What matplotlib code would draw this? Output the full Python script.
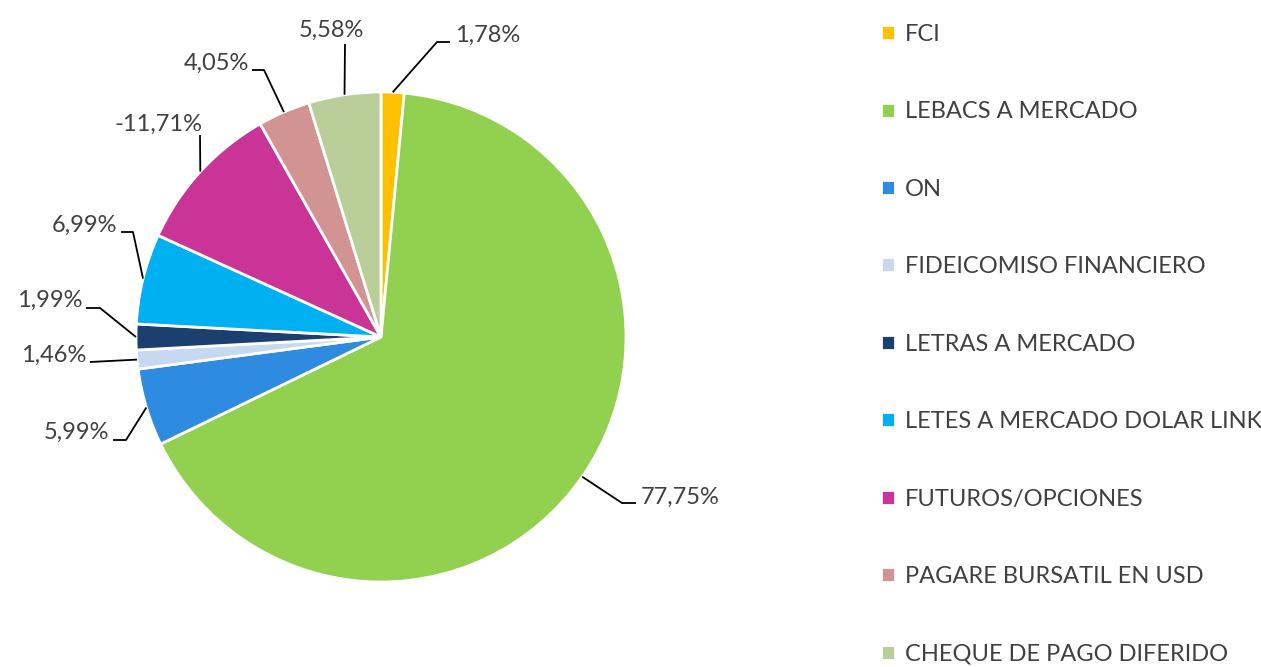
import matplotlib
matplotlib.use("Agg")
import matplotlib.pyplot as plt
import numpy as np

plt.rcParams["font.family"] = ["Lato", "DejaVu Sans"]

# --- data -------------------------------------------------------------
categories = ["FCI", "LEBACS A MERCADO", "ON", "FIDEICOMISO FINANCIERO",
              "LETRAS A MERCADO", "LETES A MERCADO DOLAR LINK",
              "FUTUROS/OPCIONES", "PAGARE BURSATIL EN USD",
              "CHEQUE DE PAGO DIFERIDO"]
values = [1.78, 77.75, 5.99, 1.46, 1.99, 6.99, -11.71, 4.05, 5.58]
colors = ["#FFC000", "#92D050", "#2E8BE0", "#C6D9F1", "#1B3F6E",
          "#00B0F0", "#CA3497", "#D29393", "#B9CE98"]

# --- layout (pixels) --------------------------------------------------
W, H, DPI = 1261, 667, 100
CX, CY, R = 381, 337, 245          # pie centre / radius in px
TXT = "#404040"
FS = 17

# leader polyline (after the wedge edge point) + text anchor, in px
label_layout = [
    ([(437, 42), (450, 42)], (455, 35), "left"),
    ([(622, 503), (636, 503)], (641, 497), "left"),
    ([(126, 440), (113, 440)], (109, 432), "right"),
    ([(90, 362)], (86, 355), "right"),
    ([(100, 308), (86, 308)], (83, 300), "right"),
    ([(133, 232), (121, 232)], (117, 225), "right"),
    ([(200, 135)], (158, 124), "center"),
    ([(264, 70), (252, 70)], (249, 63), "right"),
    ([(345, 44)], (331, 30), "center"),
]


def px(x, y):
    """pixel (top-left origin) -> pie data units."""
    return (x - CX) / R, (CY - y) / R


fig = plt.figure(figsize=(W / DPI, H / DPI), dpi=DPI)
ax = fig.add_axes([0, 0, 1, 1])

sizes = np.abs(values)   # negative share drawn by magnitude, labelled signed
wedges, _ = ax.pie(sizes, colors=colors, startangle=90, counterclock=False,
                   wedgeprops=dict(edgecolor="white", linewidth=2))
ax.set_xlim(-CX / R, (W - CX) / R)
ax.set_ylim(-(H - CY) / R, CY / R)
ax.set_aspect("equal")

for w, v, (pts, tpos, ha) in zip(wedges, values, label_layout):
    ang = np.deg2rad((w.theta1 + w.theta2) / 2)
    xs = [np.cos(ang)] + [px(*p)[0] for p in pts]
    ys = [np.sin(ang)] + [px(*p)[1] for p in pts]
    ax.plot(xs, ys, color="black", lw=1.3, solid_capstyle="butt")
    lbl = f"{v:.2f}%".replace(".", ",")
    tx, ty = px(*tpos)
    ax.text(tx, ty, lbl, ha=ha, va="center", fontsize=FS, color=TXT)

fig.legend(wedges, categories, loc="upper left",
           bbox_to_anchor=(881 / W, 1 - 24 / H), frameon=False,
           borderpad=0, borderaxespad=0, fontsize=FS, labelcolor=TXT,
           handlelength=0.6, handleheight=0.6, handletextpad=0.4,
           labelspacing=2.39)

fig.savefig("out.png", dpi=DPI, facecolor="white")
